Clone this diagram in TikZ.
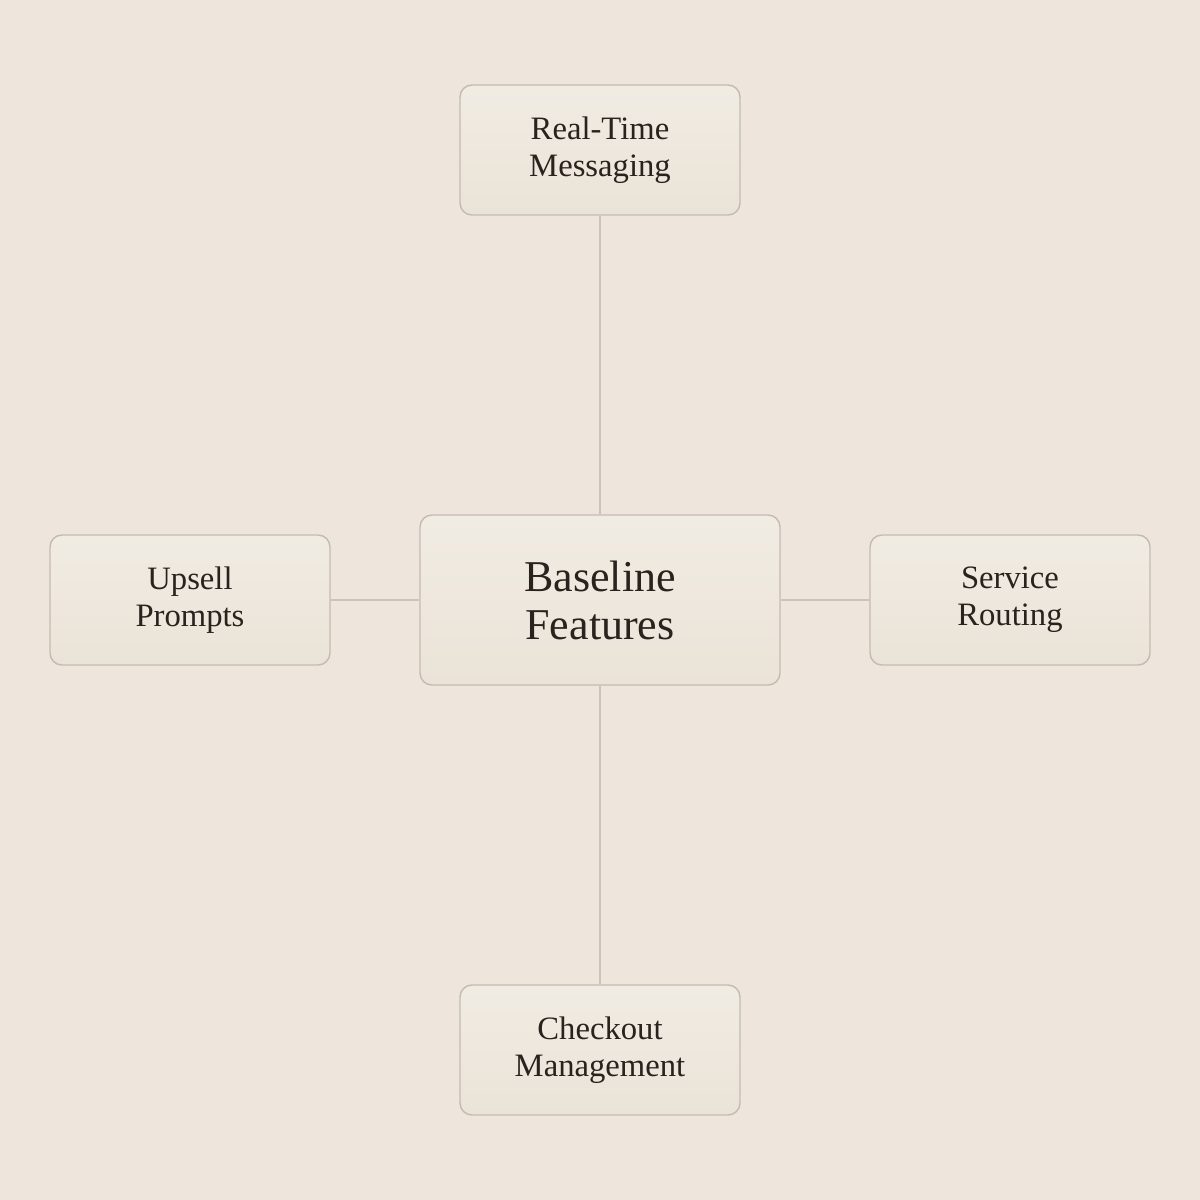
\documentclass[tikz,border=0pt]{standalone}
\usepackage{fontspec}
\setmainfont{Liberation Serif}
\definecolor{bgcream}{HTML}{EEE6DC}
\definecolor{boxtop}{HTML}{F1ECE3}
\definecolor{boxbot}{HTML}{EAE3D8}
\definecolor{boxedge}{HTML}{C4BCB2}
\definecolor{linkgray}{HTML}{CCC4BA}
\definecolor{inkbrown}{HTML}{2A221D}

\begin{document}
\begin{tikzpicture}[x=0.75pt, y=-0.75pt,
    feature/.style={draw=boxedge, line width=1.1pt, rounded corners=9pt,
      top color=boxtop, bottom color=boxbot, text=inkbrown, align=center,
      inner sep=0pt, minimum width=210pt, minimum height=97.5pt,
      font=\fontsize{24.5}{27.5}\selectfont},
    hub/.style={feature, minimum width=270pt, minimum height=127.5pt,
      font=\fontsize{33}{36}\selectfont},
    link/.style={draw=linkgray, line width=1.1pt}]
			%%%%% START %%%%%
			
			\fill[bgcream] (0, 0) rectangle (1200, 1200);
			\useasboundingbox (0, 0) rectangle (1200, 1200);
			
			\node[hub] (baseline) at (600, 600) {Baseline\\Features};
			
			\node[feature] (messaging) at (600, 150) {Real-Time\\Messaging};
			\node[feature] (upsell) at (190, 600) {Upsell\\Prompts};
			\node[feature] (routing) at (1010, 600) {Service\\Routing};
			\node[feature] (checkout) at (600, 1050) {Checkout\\Management};
			
			\draw[link] (messaging) -- (baseline);
			\draw[link] (upsell) -- (baseline);
			\draw[link] (routing) -- (baseline);
			\draw[link] (checkout) -- (baseline);
			
			%%%%% END %%%%%
\end{tikzpicture}
\end{document}
